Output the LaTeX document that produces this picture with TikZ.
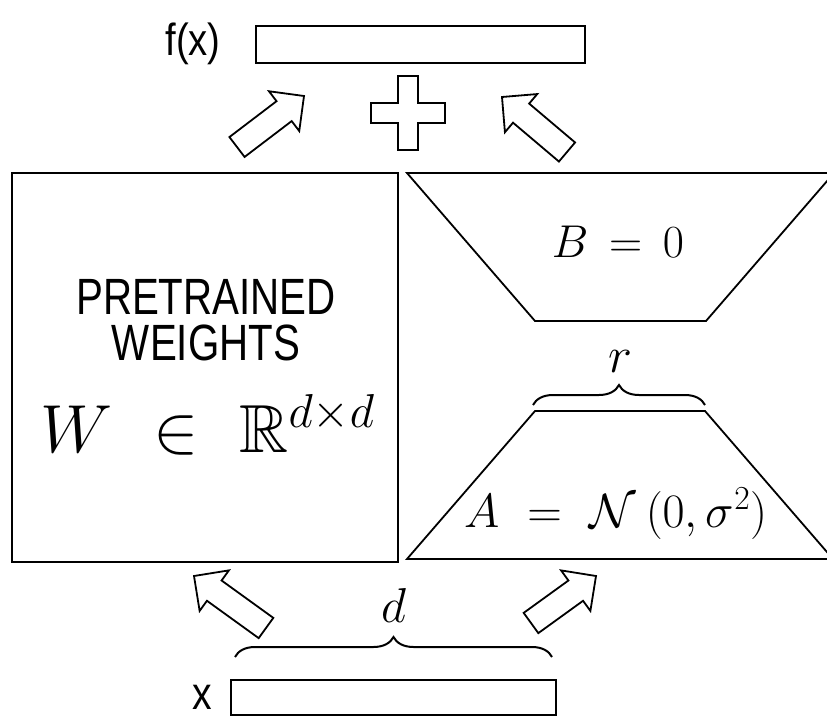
\RequirePackage{fix-cm}
\documentclass[tikz,border=0pt]{standalone}
\usepackage{amsmath,amssymb}
\usepackage{graphicx}
\usepackage{fontspec}
\newfontfamily\arial{Liberation Sans}
\usetikzlibrary{calc,decorations.pathreplacing}
\tikzset{
  outline/.style={draw, line width=1.8pt},
  box/.style={outline, inner sep=0pt},
  blockarrow/.style={draw, line width=1.8pt, fill=white, line join=miter},
  sanslabel/.style={inner sep=0pt, anchor=base},
  mathlabel/.style={inner sep=0pt, anchor=base},
  bracestyle/.style={decorate, decoration={brace, amplitude=20pt}, line width=2pt},
}
\newcommand\blockarr[3]{%
  \coordinate (#1t) at (#2);
  \coordinate (#1p) at (#3);
  \coordinate (#1h) at ($(#1p)!25pt!(#1t)$);
  \draw[blockarrow] ($(#1t)!12.5pt!90:(#1p)$) -- ($(#1h)!12.5pt!90:(#1p)$) -- ($(#1h)!25pt!90:(#1p)$) -- (#1p) -- ($(#1h)!25pt!-90:(#1p)$) -- ($(#1h)!12.5pt!-90:(#1p)$) -- ($(#1t)!12.5pt!-90:(#1p)$) -- cycle;
}
\begin{document}
\begin{tikzpicture}[x=1pt,y=-1pt]
\useasboundingbox (0,0) rectangle (827,717);
% output
\node[sanslabel] (fxl) at (193,55.5) {\arial\fontsize{45}{45}\selectfont\scalebox{0.85}[1]{f(x)}};
\node[box, minimum width=329pt, minimum height=37pt] (fx) at (420.5,44.5) {};
% plus
\draw[blockarrow] (398,76) -- (418,76) -- (418,103) -- (445,103) -- (445,123) -- (418,123) -- (418,150) -- (398,150) -- (398,123) -- (371,123) -- (371,103) -- (398,103) -- cycle;
% block arrows
\blockarr{tl}{237,147}{304,96}
\blockarr{tr}{567,152}{502,97}
\blockarr{bl}{266,628}{194,576}
\blockarr{br}{531,623}{596,576}
% pretrained weights
\node[box, minimum width=386pt, minimum height=389pt] (W) at (205,367.5) {};
\node[sanslabel] (pt1) at (206,314) {\arial\fontsize{51}{51}\selectfont\scalebox{0.79}[1]{PRETRAINED}};
\node[sanslabel] (pt2) at (206,360) {\arial\fontsize{51}{51}\selectfont\scalebox{0.79}[1]{WEIGHTS}};
\node[mathlabel, anchor=base west] (wl) at (40,452) {\fontsize{68}{68}\selectfont$W\hspace{22pt}\in\hspace{22pt}\mathbb{R}^{d\times d}$};
% B
\draw[outline, line join=miter] (407,173) -- (834,173) -- (706,321) -- (535,321) -- cycle;
\node[mathlabel, anchor=center] (bl) at (618,242) {\fontsize{46}{46}\selectfont$B\hspace{8pt}=\hspace{8pt}0$};
% A
\draw[outline, line join=miter] (535,411) -- (705,411) -- (833,559) -- (407,559) -- cycle;
\node[mathlabel] (al) at (616,527) {\fontsize{48}{48}\selectfont$A\hspace{14pt}=\hspace{14pt}\mathcal{N}\hspace{10pt}(0,\sigma^2)$};
% r brace
\coordinate (rb1) at (533,405);
\coordinate (rb2) at (705,405);
\draw[bracestyle] (rb1) -- (rb2);
\node[mathlabel] (rl) at (620,372) {\fontsize{51}{51}\selectfont$r$};
% d brace
\coordinate (db1) at (235,657);
\coordinate (db2) at (552,657);
\draw[bracestyle] (db1) -- (db2);
\node[mathlabel] (dl) at (394,622) {\fontsize{49}{49}\selectfont$d$};
% input
\node[sanslabel] (xl) at (202,709) {\arial\fontsize{46}{46}\selectfont\scalebox{0.85}[1]{x}};
\node[box, minimum width=325pt, minimum height=35pt] (x) at (393.5,697.5) {};
\end{tikzpicture}
\end{document}
